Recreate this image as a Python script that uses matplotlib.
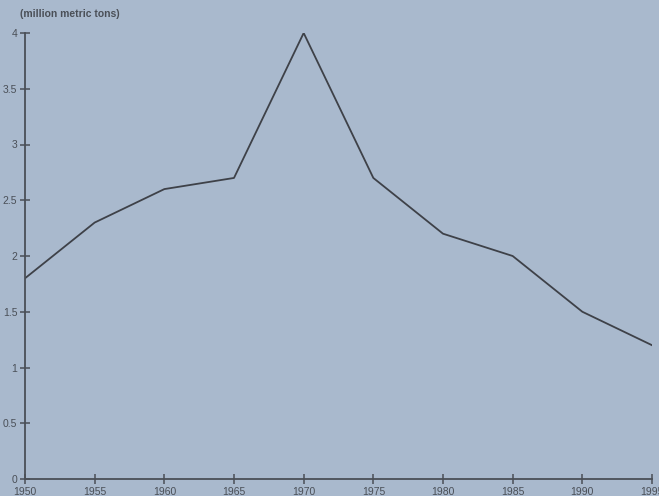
import matplotlib
matplotlib.use("Agg")
import matplotlib.pyplot as plt

years = [1950, 1955, 1960, 1965, 1970, 1975, 1980, 1985, 1990, 1995]
values = [1.8, 2.3, 2.6, 2.7, 4.0, 2.7, 2.2, 2.0, 1.5, 1.2]
yticks = [0, 0.5, 1, 1.5, 2, 2.5, 3, 3.5, 4]
ytick_labels = ["0", "0.5", "1", "1.5", "2", "2.5", "3", "3.5", "4"]

bg = "#a9b9cd"
ink = "#4a4f57"

plt.rcParams['font.family'] = ['Liberation Sans', 'DejaVu Sans']

fig = plt.figure(figsize=(6.59, 4.96), dpi=100, facecolor=bg)
ax = fig.add_axes([25/659, 17/496, 627/659, 446/496], facecolor=bg)
ax.plot(years, values, color="#3e4148", linewidth=1.3)
ax.set_xlim(1950, 1995)
ax.set_ylim(0, 4)
ax.set_xticks(years)
ax.set_xticklabels([str(y) for y in years])
ax.set_yticks(yticks)
ax.set_yticklabels(ytick_labels)
for s in ["top", "right"]:
    ax.spines[s].set_visible(False)
for s in ["left", "bottom"]:
    ax.spines[s].set_color(ink)
    ax.spines[s].set_linewidth(1.3)
ax.tick_params(direction="inout", length=7, width=1.1, color=ink,
               labelsize=7.5, labelcolor=ink, pad=2)
fig.text(20/659, 1 - 14/496, "(million metric tons)", fontsize=7.5, fontweight="bold",
         color=ink, va="center", ha="left")
fig.savefig("out.png", dpi=100, facecolor=bg)
